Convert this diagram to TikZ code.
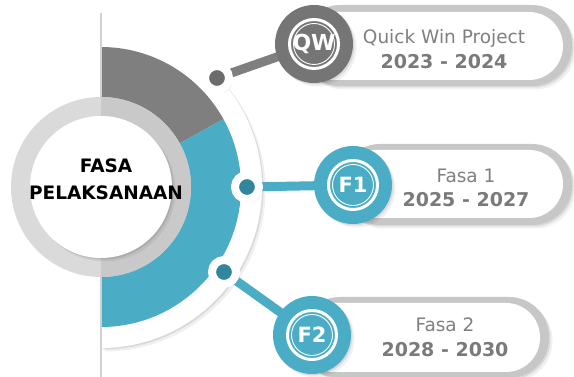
\documentclass[tikz,border=0pt]{standalone}
\usepackage{fontspec}
\setsansfont{DejaVu Sans}
\definecolor{phasegray}{HTML}{7F7F7F}
\definecolor{phaseteal}{HTML}{4BACC6}
\definecolor{phasedeep}{HTML}{31859C}
\definecolor{ringgray}{HTML}{DADADA}
\pgfdeclarelayer{bg}
\pgfdeclarelayer{links}
\pgfsetlayers{bg,links,main}

\begin{document}
\begin{tikzpicture}[x=1pt, y=1pt,
  softshadow/.style={
    preaction={fill=black, opacity=0.06, transform canvas={xshift=3.5, yshift=-3.5}},
    preaction={fill=black, opacity=0.09, transform canvas={xshift=1.5, yshift=-1.5}}},
  hub/.style={circle, minimum size=24, inner sep=0, fill=#1, draw=white, line width=8, softshadow},
  badge/.style={circle, minimum size=78, inner sep=0, fill=#1, text=white,
    font=\sffamily\bfseries\fontsize{21}{21}\selectfont, softshadow,
    path picture={
      \draw[white, line width=3] (path picture bounding box.center) circle (24.5);
      \draw[white, line width=0.9] (path picture bounding box.center) circle (20.5);}},
  link/.style={line width=9, draw=#1, shorten >=-3, shorten <=-3},
  phase/.style={font=\sffamily\fontsize{18.5}{18.5}\selectfont, text=black!50},
  years/.style={font=\sffamily\bfseries\fontsize{19}{19}\selectfont, text=black!52}]
  \useasboundingbox (0,0) rectangle (574,377);
  \def\cx{101}
  \def\cy{190}

  \begin{pgfonlayer}{bg}
    % Half ring and sectors
    \fill[white, softshadow] (\cx,\cy+161) arc (90:-90:161) -- cycle;
    \fill[phasegray] (\cx,\cy) -- ++(29:140) arc (29:90:140) -- cycle;
    \fill[phaseteal] (\cx,\cy) -- ++(-90:140) arc (-90:29:140) -- cycle;
    \draw[black!18, line width=1.4] (\cx,0) -- (\cx,364);

    % Core ring
    \fill[ringgray] (\cx,\cy) circle (90);
    \fill[ringgray!92!black] (\cx,\cy+90) arc (90:-90:90) -- cycle;
    \fill[white, softshadow] (\cx,\cy) circle (71);

    % Pills
    \fill[black!22, softshadow, rounded corners=40] (300,291) rectangle (572,372);
    \fill[white, rounded corners=34] (300,297) rectangle (563,365);
    \fill[black!22, softshadow, rounded corners=40] (340,152) rectangle (572,233);
    \fill[white, rounded corners=34] (340,159) rectangle (563,227);
    \fill[black!22, softshadow, rounded corners=40] (300,-1) rectangle (549,80);
    \fill[white, rounded corners=34] (300,5) rectangle (540,74);
  \end{pgfonlayer}

  % Centre title
  \node[font=\sffamily\bfseries\fontsize{18.5}{27}\selectfont, align=center] (core) at (106,198) {FASA\\PELAKSANAAN};

  % Hubs on the ring
  \node[hub=phasegray!85!black] (hubqw) at (217,299) {};
  \node[hub=phasedeep] (hubfa) at (247,190) {};
  \node[hub=phasedeep] (hubfb) at (224,105) {};

  % Badges
  \node[badge=phasegray!92!black, font=\sffamily\bfseries\fontsize{22}{22}\selectfont] (badgeqw) at (314,333) {QW};
  \node[badge=phaseteal] (badgefa) at (353,192) {F1};
  \node[badge=phaseteal] (badgefb) at (312,42) {F2};

  % Pill texts
  \node[phase] (nameqw) at (444,339) {Quick Win Project};
  \node[years] (yearqw) at (444,315) {2023 - 2024};
  \node[phase] (namefa) at (466,201) {Fasa 1};
  \node[years] (yearfa) at (466,177) {2025 - 2027};
  \node[phase] (namefb) at (445,52) {Fasa 2};
  \node[years] (yearfb) at (445,27) {2028 - 2030};

  % Connectors
  \begin{pgfonlayer}{links}
    \draw[link=phasegray] (hubqw) -- (badgeqw);
    \draw[link=phaseteal] (hubfa) -- (badgefa);
    \draw[link=phaseteal] (hubfb) -- (badgefb);
  \end{pgfonlayer}
\end{tikzpicture}
\end{document}
